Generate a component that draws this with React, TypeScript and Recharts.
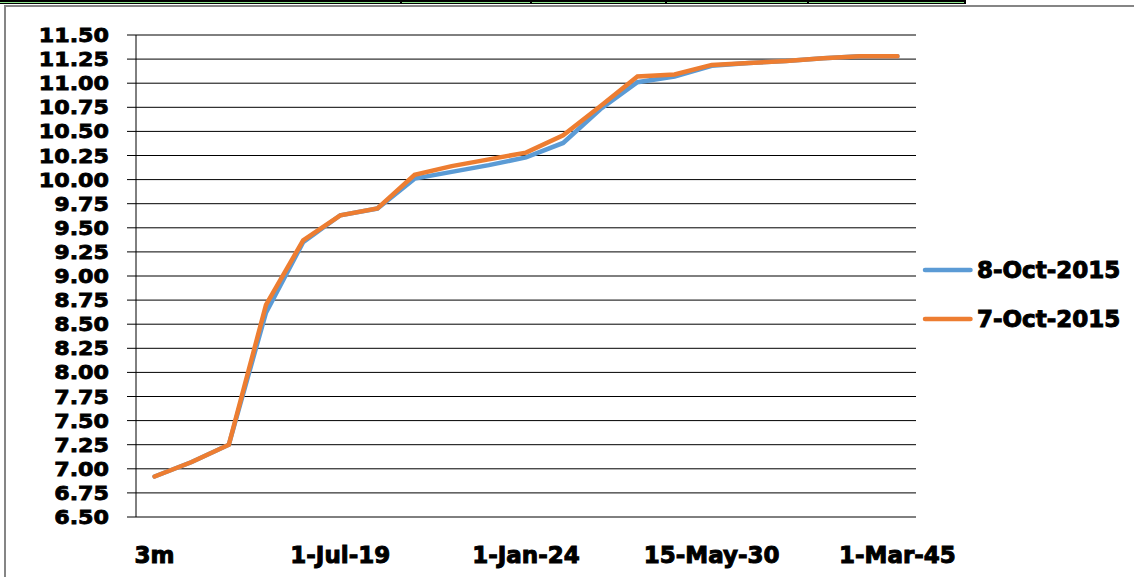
import React from 'react';
import { LineChart, Line, XAxis, YAxis, CartesianGrid, Legend } from 'recharts';

const categories = [
  '3m', '6m', '1y', '1-Feb-17', '1-Jan-18', '1-Jul-19', '1-Mar-20', '1-Jan-21', '1-Jun-22', '1-Mar-23',
  '1-Jan-24', '1-Jul-25', '1-Jan-26', '1-Jan-27', '1-Jun-28', '15-May-30', '1-Jan-32', '1-Jan-35', '1-Jan-38', '1-Jan-40', '1-Mar-45',
];
const oct8 = [6.92, 7.07, 7.25, 8.62, 9.35, 9.63, 9.70, 10.01, 10.08, 10.15, 10.23, 10.38, 10.73, 11.01, 11.07, 11.18, 11.21, 11.23, 11.26, 11.28, 11.28];
const oct7 = [6.92, 7.07, 7.25, 8.70, 9.37, 9.63, 9.70, 10.05, 10.14, 10.21, 10.28, 10.46, 10.76, 11.07, 11.09, 11.19, 11.21, 11.23, 11.26, 11.28, 11.28];
const seriesNames = ['8-Oct-2015', '7-Oct-2015'];
const seriesColors = ['#5B9BD5', '#ED7D31'];
const yTicks = [6.5, 6.75, 7, 7.25, 7.5, 7.75, 8, 8.25, 8.5, 8.75, 9, 9.25, 9.5, 9.75, 10, 10.25, 10.5, 10.75, 11, 11.25, 11.5];
const xLabelIdx = [0, 5, 10, 15, 20];

const data = categories.map((name, i) => ({ idx: i, name, a: oct8[i], b: oct7[i] }));
const boundaryTicks = categories.map((_, i) => i - 0.5).concat([categories.length - 0.5]);

const FONT = '"DejaVu Sans", Verdana, sans-serif';

const YTick = (props: any) => {
  const { x, y, payload } = props;
  return (
    <text
      x={x}
      y={y}
      dy="0.36em"
      textAnchor="end"
      fontFamily={FONT}
      fontWeight="bold"
      fontSize={19.5}
      fill="#000"
      stroke="#000"
      strokeWidth={0.8}
      transform={`translate(${x} ${y}) scale(1.14 1) translate(${-x} ${-y})`}
    >
      {Number(payload.value).toFixed(2)}
    </text>
  );
};

const XTick = (props: any) => {
  const { x, y, payload } = props;
  return (
    <text x={x} y={y + 45.7} textAnchor="middle" fontFamily={FONT} fontWeight="bold" fontSize={23} fill="#000" stroke="#000" strokeWidth={1}>
      {categories[payload.value]}
    </text>
  );
};

const LegendContent = () => (
  <div style={{ fontFamily: FONT, fontWeight: 'bold', fontSize: 23, color: '#000', WebkitTextStroke: '1px #000' } as any}>
    {seriesNames.map((n, i) => (
      <div key={n} style={{ display: 'flex', alignItems: 'center', height: 49.4 }}>
        <svg width={56} height={10} style={{ display: 'block' }}>
          <line x1={5} y1={5} x2={50.5} y2={5} stroke={seriesColors[i]} strokeWidth={4.5} strokeLinecap="round" />
        </svg>
        <span style={{ marginLeft: 1, whiteSpace: 'nowrap' }}>{n}</span>
      </div>
    ))}
  </div>
);

export default function App() {
  return (
    <div style={{ position: 'absolute', left: 0, top: 0, width: 1134, height: 577, background: '#fff', overflow: 'hidden' }}>
      {/* top table strip */}
      <div style={{ position: 'absolute', left: 0, top: 0, width: 966, height: 4, background: '#000' }} />
      <div style={{ position: 'absolute', left: 0, top: 1.5, width: 964, height: 1, background: '#8fe88f' }} />
      {[400, 530, 665, 807].map((sx) => (
        <div key={sx} style={{ position: 'absolute', left: sx, top: 0, width: 2, height: 4, background: '#000' }} />
      ))}
      {/* chart frame */}
      <div style={{ position: 'absolute', left: 4, top: 5, width: 1140, height: 600, borderTop: '2px solid #858585', borderLeft: '2px solid #858585' }} />
      <div style={{ position: 'absolute', left: 0, top: 0 }}>
        <LineChart width={1134} height={577} data={data} margin={{ top: 35, right: 218, bottom: 0, left: 0 }}>
          <CartesianGrid xAxisId="lbl" vertical={false} stroke="#000" strokeWidth={1} />
          <XAxis
            xAxisId="tk"
            dataKey="idx"
            type="number"
            domain={[-0.5, categories.length - 0.5]}
            ticks={boundaryTicks}
            interval={0}
            height={0}
            tick={false}
            tickSize={9}
            axisLine={{ stroke: '#000', strokeWidth: 1 }}
            tickLine={{ stroke: '#000', strokeWidth: 1 }}
          />
          <XAxis
            xAxisId="lbl"
            dataKey="idx"
            type="number"
            domain={[-0.5, categories.length - 0.5]}
            ticks={xLabelIdx}
            interval={0}
            height={60}
            tickSize={0}
            tickMargin={0}
            axisLine={false}
            tickLine={false}
            tick={<XTick />}
          />
          <YAxis
            type="number"
            domain={[6.5, 11.5]}
            ticks={yTicks}
            interval={0}
            width={136}
            tickSize={9}
            tickMargin={18}
            axisLine={{ stroke: '#000', strokeWidth: 1 }}
            tickLine={{ stroke: '#000', strokeWidth: 1 }}
            tick={<YTick />}
          />
          <Legend
            layout="horizontal"
            align="center"
            verticalAlign="middle"
            wrapperStyle={{ left: 920, top: 245, width: 214, height: 100 }}
            content={<LegendContent />}
          />
          <Line
            xAxisId="lbl"
            type="linear"
            dataKey="a"
            name={seriesNames[0]}
            stroke={seriesColors[0]}
            strokeWidth={4.5}
            strokeLinecap="round"
            dot={false}
            isAnimationActive={false}
          />
          <Line
            xAxisId="lbl"
            type="linear"
            dataKey="b"
            name={seriesNames[1]}
            stroke={seriesColors[1]}
            strokeWidth={4.5}
            strokeLinecap="round"
            dot={false}
            isAnimationActive={false}
          />
        </LineChart>
      </div>
    </div>
  );
}
